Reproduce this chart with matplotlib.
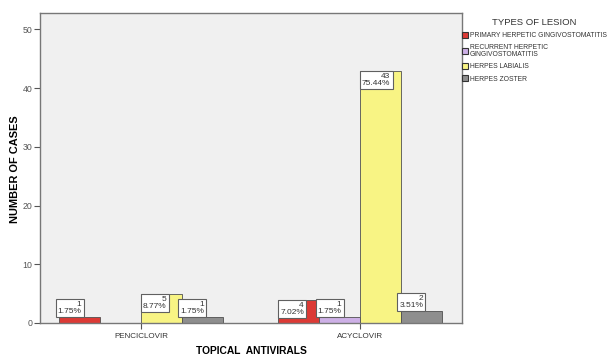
import matplotlib
matplotlib.use("Agg")
import matplotlib.pyplot as plt
import numpy as np

plt.rcParams['font.family'] = ['Liberation Sans', 'DejaVu Sans']

# Data
antivirals = ["PENCICLOVIR", "ACYCLOVIR"]
lesion_types = [
    "PRIMARY HERPETIC GINGIVOSTOMATITIS",
    "RECURRENT HERPETIC\nGINGIVOSTOMATITIS",
    "HERPES LABIALIS",
    "HERPES ZOSTER",
]
counts_penciclovir = [1, 0, 5, 1]
counts_acyclovir = [4, 1, 43, 2]
percent_penciclovir = ["1.75%", "", "8.77%", "1.75%"]
percent_acyclovir = ["7.02%", "1.75%", "75.44%", "3.51%"]

colors = ["#DC3A35", "#CDB0E6", "#F8F484", "#8E8E8E"]

counts = np.array([counts_penciclovir, counts_acyclovir])
percents = [percent_penciclovir, percent_acyclovir]

fig = plt.figure(figsize=(6.10, 3.56), dpi=100)
ax = fig.add_axes([0.0656, 0.0927, 0.6918, 0.8708])
ax.set_facecolor("#F0F0F0")

x = np.arange(len(antivirals))
width = 0.187
ymax = 52.8
ax.set_xlim(-0.461, 1.466)
ax.set_ylim(0, ymax)

bbox_style = dict(boxstyle="square,pad=0.25", facecolor="white",
                  edgecolor="#606060", linewidth=0.8)

for j, lesion in enumerate(lesion_types):
    offs = (j - 1.5) * width
    ax.bar(x + offs, counts[:, j], width, color=colors[j],
           edgecolor="#505050", linewidth=0.6, label=lesion, zorder=2)
    for i in range(len(antivirals)):
        v = counts[i, j]
        if v == 0:
            continue
        left = x[i] + offs - width / 2
        txt = f"{v}\n{percents[i][j]}"
        # bar height in pixels (axes height 310 px)
        if v / ymax * 310 >= 22:
            ax.annotate(txt, xy=(left, v), xytext=(1.5, -1.5),
                        textcoords="offset points", ha="left", va="top",
                        multialignment="right", fontsize=6.0, color="#333333",
                        linespacing=1.05, bbox=bbox_style, zorder=4)
        else:
            ax.annotate(txt, xy=(left, v), xytext=(-1.0, 1.5),
                        textcoords="offset points", ha="left", va="bottom",
                        multialignment="right", fontsize=6.0, color="#333333",
                        linespacing=1.05, bbox=bbox_style, zorder=4)

ax.set_xticks(x)
ax.set_xticklabels(antivirals, fontsize=5.8, color="#333333")
ax.set_yticks([0, 10, 20, 30, 40, 50])
ax.tick_params(axis="y", labelsize=6.3, labelcolor="#555555", length=4,
               color="#555555", width=0.8, pad=1.5)
ax.tick_params(axis="x", length=4, color="#555555", width=0.8, pad=3)

for s in ax.spines.values():
    s.set_color("#777777")
    s.set_linewidth(1.0)

fig.text(251 / 610, 1 - 351 / 356, "TOPICAL  ANTIVIRALS", fontsize=7.4,
         fontweight="bold", ha="center", va="center")
fig.text(15 / 610, 1 - 169 / 356, "NUMBER OF CASES", fontsize=7.9,
         fontweight="bold", ha="center", va="center", rotation=90)

leg = ax.legend(loc="upper left", bbox_to_anchor=(1.0, 0.985),
                title="TYPES OF LESION", fontsize=4.9, title_fontsize=6.8,
                frameon=False, handlelength=0.9, handleheight=1.0,
                handletextpad=0.2, borderaxespad=0.0, borderpad=0.0,
                labelspacing=0.75)
leg.get_title().set_color("#333333")
for t in leg.get_texts():
    t.set_color("#333333")
    t.set_linespacing(0.9)
for h in leg.legend_handles:
    h.set_edgecolor("#333333")
    h.set_linewidth(0.8)

fig.savefig("out.png", dpi=100, facecolor="white")
